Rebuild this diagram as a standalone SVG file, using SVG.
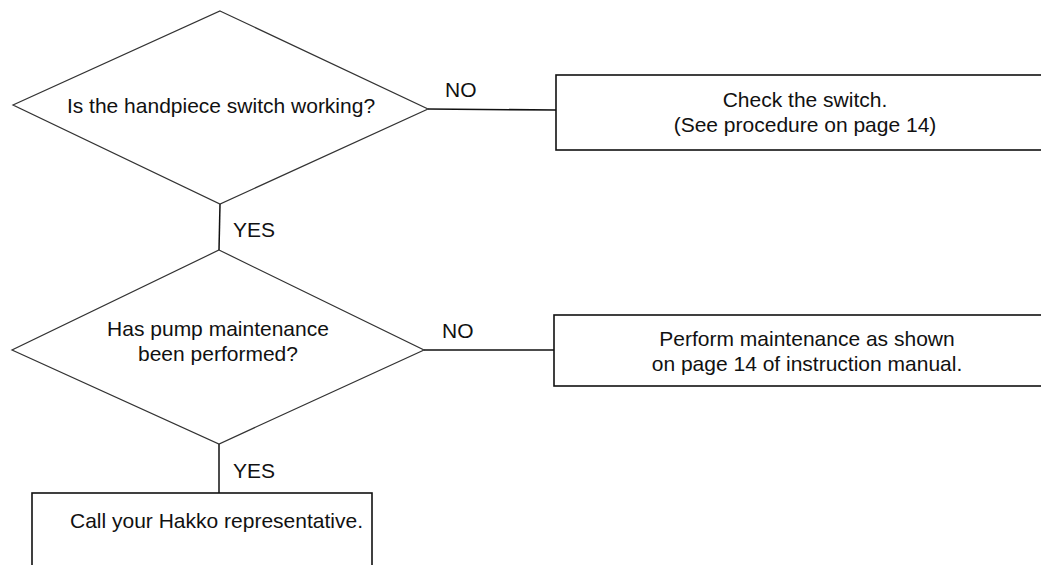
<svg xmlns="http://www.w3.org/2000/svg" width="1041" height="565" viewBox="0 0 1041 565">
<style>
.bg{fill:#ffffff}
.dia{fill:none;stroke:#333;stroke-width:1.2}
.box{fill:none;stroke:#111;stroke-width:1.6}
.con{fill:none;stroke:#111;stroke-width:1.5}
.t{font-family:"Liberation Sans",Arial,sans-serif;font-size:21px;fill:#111}
.m{text-anchor:middle}
</style>
<rect class="bg" x="0" y="0" width="1041" height="565"/>
<g id="connectors">
<line class="con" x1="428" y1="109" x2="556" y2="110"/>
<text class="t" x="445" y="97">NO</text>
<line class="con" x1="220" y1="204" x2="219" y2="250"/>
<text class="t" x="233" y="237">YES</text>
<line class="con" x1="424" y1="350" x2="554" y2="350"/>
<text class="t" x="442" y="338">NO</text>
<line class="con" x1="219" y1="444" x2="219" y2="493"/>
<text class="t" x="233" y="478">YES</text>
</g>
<g id="q1">
<polygon class="dia" points="220,11 428,109 220,204 13,105"/>
<text class="t m" x="221" y="113">Is the handpiece switch working?</text>
</g>
<g id="check-switch">
<rect class="box" x="556" y="75" width="520" height="75"/>
<text class="t m" x="805" y="107">Check the switch.</text>
<text class="t m" x="805" y="132">(See procedure on page 14)</text>
</g>
<g id="q2">
<polygon class="dia" points="219,250 424,350 219,444 12,350"/>
<text class="t m" x="218" y="336">Has pump maintenance</text>
<text class="t m" x="218" y="361">been performed?</text>
</g>
<g id="perform-maintenance">
<rect class="box" x="554" y="315" width="520" height="71"/>
<text class="t m" x="807" y="346">Perform maintenance as shown</text>
<text class="t m" x="807" y="371">on page 14 of instruction manual.</text>
</g>
<g id="call-hakko">
<rect class="box" x="32" y="493" width="340" height="100"/>
<text class="t" x="70" y="528">Call your Hakko representative.</text>
</g>
</svg>
